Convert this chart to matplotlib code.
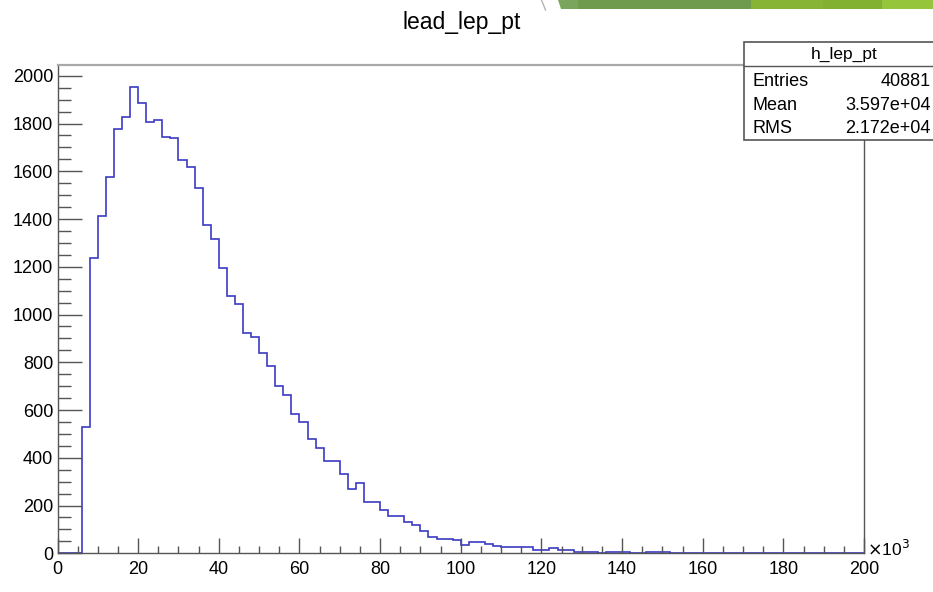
import numpy as np
import matplotlib
matplotlib.use("Agg")
import matplotlib.pyplot as plt
from matplotlib.patches import Polygon, Rectangle
from matplotlib.lines import Line2D
from matplotlib.ticker import MultipleLocator

plt.rcParams['font.family'] = ['Liberation Sans', 'DejaVu Sans']

# ---- data (x in units of 10^3, 2-unit bins from 0 to 200) ----
bin_edges = np.arange(0, 202, 2)
counts = [
    0, 0, 0, 530, 1238, 1412, 1577, 1777, 1828, 1951,
    1884, 1807, 1814, 1745, 1740, 1647, 1616, 1531, 1375, 1316,
    1196, 1076, 1045, 921, 907, 837, 786, 702, 663, 582,
    551, 477, 442, 387, 385, 331, 268, 293, 213, 214,
    181, 156, 156, 132, 120, 93, 70, 61, 60, 57,
    35, 49, 48, 39, 31, 25, 25, 25, 25, 14,
    14, 21, 14, 12, 7, 7, 4, 0, 5, 5,
    5, 2, 0, 5, 5, 7, 2, 2, 2, 2,
    3, 2, 2, 2, 2, 0, 1, 1, 0, 0,
    1, 0, 1, 0, 1, 1, 0, 0, 1, 1,
]
title = "lead_lep_pt"
hist_name = "h_lep_pt"
stat_labels = ["Entries", "Mean", "RMS"]
stat_values = ["40881", "3.597e+04", "2.172e+04"]
x_ticks = [0, 20, 40, 60, 80, 100, 120, 140, 160, 180, 200]
y_ticks = [0, 200, 400, 600, 800, 1000, 1200, 1400, 1600, 1800, 2000]

W, H = 933, 592
fig = plt.figure(figsize=(W / 100, H / 100), dpi=100)
fig.patch.set_facecolor("white")

def fx(px):
    return px / W

def fy(py):
    return 1 - py / H

left, right, top, bottom = 57.5, 864.0, 65.0, 553.3
ax = fig.add_axes([fx(left), fy(bottom), fx(right) - fx(left), fy(top) - fy(bottom)])
ax.stairs(counts, bin_edges, color="#3b3bc4", linewidth=1.2, baseline=None)
ax.set_xlim(0, 200)
ax.set_ylim(0, 2045)

for s in ["left", "bottom", "right"]:
    ax.spines[s].set_color("#555555")
    ax.spines[s].set_linewidth(1.0)
ax.spines["top"].set_color("#a8a8a8")
ax.spines["top"].set_linewidth(1.6)

ax.xaxis.set_major_locator(MultipleLocator(20))
ax.xaxis.set_minor_locator(MultipleLocator(5))
ax.yaxis.set_major_locator(MultipleLocator(200))
ax.yaxis.set_minor_locator(MultipleLocator(50))
ax.set_xticks(x_ticks)
ax.set_yticks(y_ticks)
ax.tick_params(axis="x", which="major", direction="in", length=10.5, width=1.0,
               color="#555555", labelsize=13, pad=5.5, top=False)
ax.tick_params(axis="x", which="minor", direction="in", length=5.2, width=1.0,
               color="#555555", top=False)
ax.tick_params(axis="y", which="major", direction="in", length=17.5, width=1.0,
               color="#555555", labelsize=13, pad=3, right=False)
ax.tick_params(axis="y", which="minor", direction="in", length=9.2, width=1.0,
               color="#555555", right=False)

# x10^3 label
fig.text(fx(867), fy(549), r"$\times$10$^{3}$", fontsize=12.5, ha="left", va="center")

# title
fig.text(fx(461.5), fy(23), title, fontsize=16.5, ha="center", va="center")

# stats box
bx0, by0, by1 = 744.0, 42.3, 140.0
box = Rectangle((fx(bx0), fy(by1)), fx(960) - fx(bx0), fy(by0) - fy(by1),
                transform=fig.transFigure, facecolor="white", edgecolor="#555555",
                linewidth=1.2, zorder=5)
fig.patches.append(box)
fig.lines.append(Line2D([fx(bx0), fx(960)], [fy(65.7), fy(65.7)],
                        transform=fig.transFigure, color="#555555", linewidth=1.0, zorder=6))
fig.text(fx(844), fy(54), hist_name, fontsize=12.5, ha="center", va="center", zorder=7)
row_y = [81.5, 105, 128.5]
for lab, val, ry in zip(stat_labels, stat_values, row_y):
    fig.text(fx(753), fy(ry), lab, fontsize=13, ha="left", va="center", zorder=7)
    fig.text(fx(931), fy(ry), val, fontsize=13, ha="right", va="center", zorder=7)

# decorative green banner at top right (slide background)
segs = [
    ([(558.3, 0), (577.7, 0), (577.7, 8.5), (560.7, 8.5)], "#79a65c"),
    ([(577.7, 0), (751, 0), (751, 8.5), (577.7, 8.5)], "#6f9b4f"),
    ([(751, 0), (823, 0), (823, 8.5), (751, 8.5)], "#87b435"),
    ([(823, 0), (882.3, 0), (882.3, 8.5), (823, 8.5)], "#82b031"),
    ([(882.3, 0), (933, 0), (933, 8.5), (882.3, 8.5)], "#95c53b"),
]
for pts, c in segs:
    fig.patches.append(Polygon([(fx(a), fy(b)) for a, b in pts], closed=True,
                               transform=fig.transFigure, facecolor=c,
                               edgecolor="none", zorder=4))
fig.lines.append(Line2D([fx(541.5), fx(545.5)], [fy(0), fy(10)],
                        transform=fig.transFigure, color="#b5b5b5", linewidth=1.0))

fig.savefig("out.png", dpi=100)
